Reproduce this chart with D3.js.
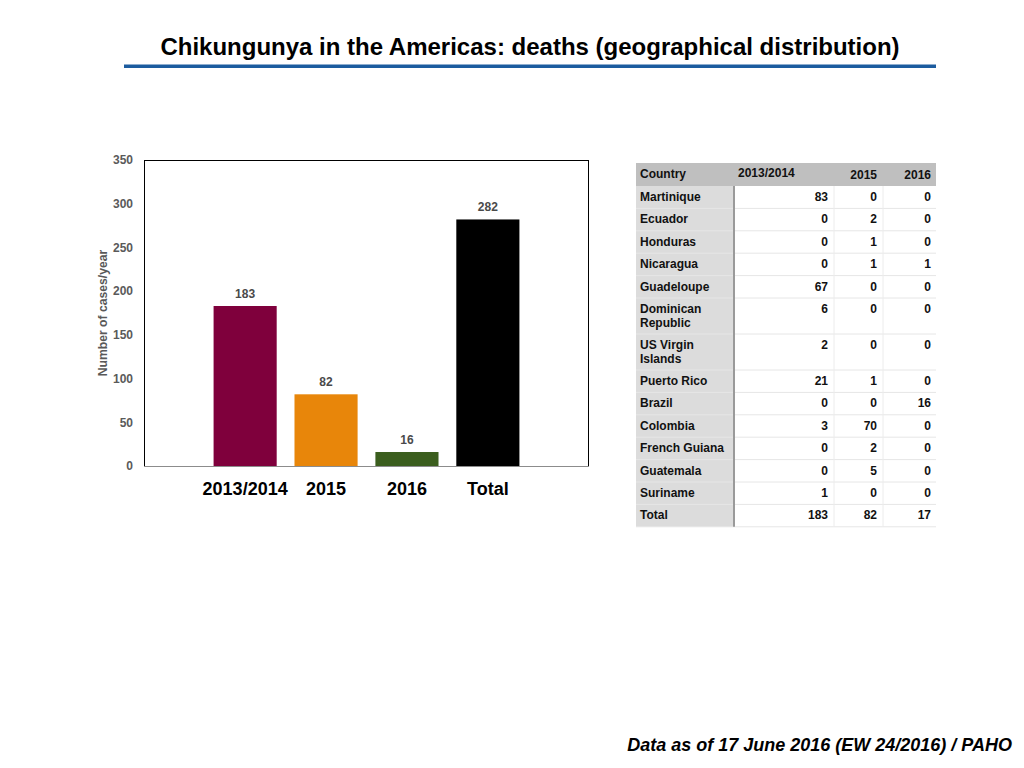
<!DOCTYPE html>
<html>
<head>
<meta charset="utf-8">
<script src="https://cdn.jsdelivr.net/npm/d3@7"></script>
<style>
  html, body { margin: 0; padding: 0; background: #fff; }
  svg { display: block; font-family: "Liberation Sans", Arial, Helvetica, sans-serif; }
</style>
</head>
<body>
<svg id="chart" width="1024" height="768"></svg>
<script>
// ---- Data ----
const categories = ["2013/2014", "2015", "2016", "Total"];
const deaths = [183, 82, 16, 282];
const barColors = ["#7f003c", "#e8860a", "#3b5e1e", "#000000"];
const yTicks = [0, 50, 100, 150, 200, 250, 300, 350];

const tableHeader = ["Country", "2013/2014", "2015", "2016"];
const countries = ["Martinique", "Ecuador", "Honduras", "Nicaragua", "Guadeloupe",
  "Dominican Republic", "US Virgin Islands", "Puerto Rico", "Brazil", "Colombia",
  "French Guiana", "Guatemala", "Suriname", "Total"];
const col2013 = [83, 0, 0, 0, 67, 6, 2, 21, 0, 3, 0, 0, 1, 183];
const col2015 = [0, 2, 1, 1, 0, 0, 0, 1, 0, 70, 2, 5, 0, 82];
const col2016 = [0, 0, 0, 1, 0, 0, 0, 0, 16, 0, 0, 0, 0, 17];

const titleText = "Chikungunya in the Americas: deaths (geographical distribution)";
const footerText = "Data as of 17 June 2016 (EW 24/2016) / PAHO";
const yTitle = "Number of cases/year";

// ---- Drawing ----
const svg = d3.select("#chart");

svg.append("text")
  .attr("x", 530).attr("y", 55)
  .attr("text-anchor", "middle")
  .attr("font-size", 24).attr("font-weight", "bold").attr("fill", "#000")
  .text(titleText);

svg.append("rect")
  .attr("x", 124).attr("y", 64.5).attr("width", 812).attr("height", 3.5)
  .attr("fill", "#1c5c9f");

svg.append("text")
  .attr("x", 1012).attr("y", 751)
  .attr("text-anchor", "end")
  .attr("font-size", 18).attr("font-weight", "bold").attr("font-style", "italic")
  .attr("fill", "#000")
  .text(footerText);

// Bar chart
const plot = { left: 144, right: 589, top: 160, bottom: 466 };
const x = d3.scaleBand().domain(categories)
  .range([plot.left, plot.right])
  .paddingInner(0.22).paddingOuter(0.86);
const y = d3.scaleLinear().domain([0, 350]).range([plot.bottom, plot.top]);

const g = svg.append("g");

// frame
g.append("line").attr("x1", plot.left).attr("x2", plot.right)
  .attr("y1", plot.top + 0.5).attr("y2", plot.top + 0.5).attr("stroke", "#000");
g.append("line").attr("x1", plot.left + 0.5).attr("x2", plot.left + 0.5)
  .attr("y1", plot.top).attr("y2", plot.bottom).attr("stroke", "#000");
g.append("line").attr("x1", plot.right - 0.5).attr("x2", plot.right - 0.5)
  .attr("y1", plot.top).attr("y2", plot.bottom).attr("stroke", "#000");

// y axis
const yAxis = d3.axisLeft(y).tickValues(yTicks).tickSize(0).tickPadding(11);
const ya = g.append("g").attr("transform", `translate(${plot.left},0)`).call(yAxis);
ya.select(".domain").remove();
ya.selectAll("text")
  .attr("font-family", "'Liberation Sans', Arial, sans-serif")
  .attr("font-size", 12).attr("font-weight", "bold").attr("fill", "#5a5a5a");

// bars
g.selectAll("rect.bar").data(categories).join("rect")
  .attr("class", "bar")
  .attr("x", d => x(d))
  .attr("width", x.bandwidth())
  .attr("y", (d, i) => y(deaths[i]))
  .attr("height", (d, i) => y(0) - y(deaths[i]))
  .attr("fill", (d, i) => barColors[i]);

// bottom line
g.append("line").attr("x1", plot.left).attr("x2", plot.right)
  .attr("y1", plot.bottom + 0.5).attr("y2", plot.bottom + 0.5).attr("stroke", "#8c8c8c");

// value labels
g.selectAll("text.val").data(categories).join("text")
  .attr("class", "val")
  .attr("x", d => x(d) + x.bandwidth() / 2)
  .attr("y", (d, i) => y(deaths[i]) - 8)
  .attr("text-anchor", "middle")
  .attr("font-size", 12).attr("font-weight", "bold").attr("fill", "#4a4a4a")
  .text((d, i) => deaths[i]);

// x axis labels
const xAxis = d3.axisBottom(x).tickSize(0).tickPadding(16);
const xa = g.append("g").attr("transform", `translate(0,${plot.bottom})`).call(xAxis);
xa.select(".domain").remove();
xa.selectAll("text")
  .attr("font-family", "'Liberation Sans', Arial, sans-serif")
  .attr("font-size", 18).attr("font-weight", "bold").attr("fill", "#000");

// y title
g.append("text")
  .attr("transform", `translate(107,${(plot.top + plot.bottom) / 2 }) rotate(-90)`)
  .attr("text-anchor", "middle")
  .attr("font-size", 12.2).attr("font-weight", "bold").attr("fill", "#595959")
  .text(yTitle);

// ---- Table ----
const fs = 12;
const t = { left: 636, top: 163, headerH: 23, rowH: 22.4, lineH: 14 };
const colEdges = [636, 734, 834, 883, 936];
const tg = svg.append("g").attr("font-size", fs).attr("font-weight", "bold").attr("fill", "#111");

// wrap country names
const measure = svg.append("text").attr("font-size", fs).attr("font-weight", "bold");
function wrap(name, maxW) {
  const words = name.split(" ");
  const lines = [];
  let cur = "";
  words.forEach(w => {
    const test = cur ? cur + " " + w : w;
    measure.text(test);
    if (measure.node().getComputedTextLength() > maxW && cur) {
      lines.push(cur); cur = w;
    } else cur = test;
  });
  lines.push(cur);
  return lines;
}
const rows = countries.map((c, i) => ({ lines: wrap(c, 88), v: [col2013[i], col2015[i], col2016[i]] }));
measure.remove();

let yy = t.top + t.headerH;
rows.forEach(r => {
  r.top = yy;
  r.h = r.lines.length > 1 ? t.rowH + (r.lines.length - 1) * t.lineH - 0.4 : t.rowH;
  yy += r.h;
});
const tableBottom = yy;

// backgrounds
tg.append("rect").attr("x", colEdges[0]).attr("y", t.top)
  .attr("width", colEdges[4] - colEdges[0]).attr("height", t.headerH).attr("fill", "#bfbfbf");
tg.append("rect").attr("x", colEdges[0]).attr("y", t.top + t.headerH)
  .attr("width", colEdges[1] - colEdges[0]).attr("height", tableBottom - t.top - t.headerH)
  .attr("fill", "#dcdcdc");

// horizontal lines
rows.forEach(r => {
  tg.append("line").attr("x1", colEdges[0]).attr("x2", colEdges[4])
    .attr("y1", r.top + r.h).attr("y2", r.top + r.h)
    .attr("stroke", "#e6e6e6").attr("stroke-width", 1);
});
// vertical lines
[2, 3].forEach(k => {
  tg.append("line").attr("x1", colEdges[k]).attr("x2", colEdges[k])
    .attr("y1", t.top + t.headerH).attr("y2", tableBottom)
    .attr("stroke", "#ececec");
});
tg.append("line").attr("x1", colEdges[1]).attr("x2", colEdges[1])
  .attr("y1", t.top + t.headerH).attr("y2", tableBottom)
  .attr("stroke", "#9a9a9a").attr("stroke-width", 2);

// header text
tg.append("text").attr("x", colEdges[0] + 4).attr("y", t.top + 15).text(tableHeader[0]);
tg.append("text").attr("x", colEdges[1] + 4).attr("y", t.top + 14).text(tableHeader[1]);
tg.append("text").attr("x", colEdges[3] - 6).attr("y", t.top + 16).attr("text-anchor", "end").text(tableHeader[2]);
tg.append("text").attr("x", colEdges[4] - 5).attr("y", t.top + 16).attr("text-anchor", "end").text(tableHeader[3]);

// rows text
rows.forEach(r => {
  r.lines.forEach((ln, j) => {
    tg.append("text").attr("x", colEdges[0] + 4).attr("y", r.top + 15 + j * t.lineH).text(ln);
  });
  const rightX = [colEdges[2] - 6, colEdges[3] - 6, colEdges[4] - 5];
  r.v.forEach((v, k) => {
    tg.append("text").attr("x", rightX[k]).attr("y", r.top + 15)
      .attr("text-anchor", "end").text(v);
  });
});
</script>
</body>
</html>
